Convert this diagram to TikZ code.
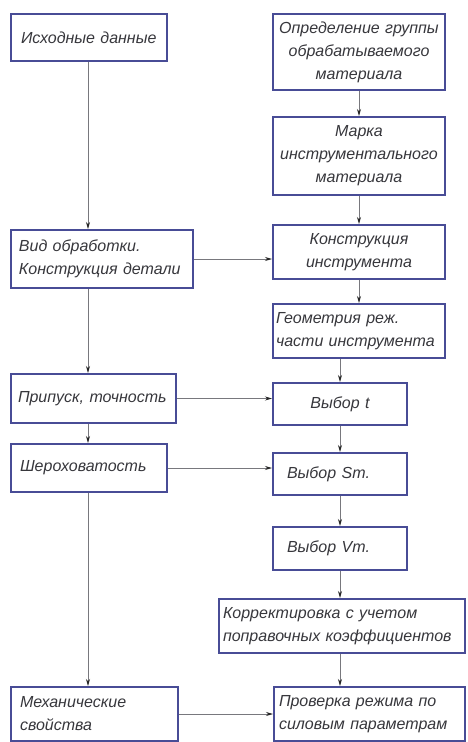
\documentclass[tikz,border=0pt]{standalone}
\usepackage{fontspec}
\setmainfont{Liberation Sans}
\usetikzlibrary{arrows.meta}
\definecolor{boxblue}{RGB}{72,76,150}
\definecolor{txt}{RGB}{55,55,60}
\definecolor{conn}{RGB}{120,120,125}
\begin{document}
\begin{tikzpicture}[x=1pt,y=-1pt,
  every node/.style={font=\fontsize{16}{23}\selectfont\itshape, text=txt},
  box/.style={draw=boxblue, line width=2pt, fill=white, anchor=north west, inner ysep=0pt},
  lbox/.style={box, align=left},
  cbox/.style={box, align=center},
  link/.style={draw=conn, line width=0.8pt, -{Stealth[length=7pt,width=4pt,color=black!85]}}
]
\useasboundingbox[fill=white] (0,0) rectangle (467,742);

% left column
\node[lbox, minimum width=156pt, minimum height=47pt, text width=136pt, inner xsep=10pt] (b1) at (10,13) {Исходные данные};
\node[lbox, minimum width=182pt, minimum height=58pt, text width=166pt, inner xsep=8pt] (b2) at (10,229) {Вид обработки.\\Конструкция детали};
\node[lbox, minimum width=165pt, minimum height=49pt, text width=151pt, inner xsep=7pt] (b3) at (10,373) {\mbox{Припуск, точность}};
\node[lbox, minimum width=156pt, minimum height=48pt, text width=138pt, inner xsep=9pt] (b4) at (10,443) {Шероховатость};
\node[lbox, minimum width=167pt, minimum height=54pt, text width=149pt, inner xsep=9pt] (b5) at (10,686) {Механические\\свойства};

% right column
\node[cbox, minimum width=172pt, minimum height=76pt, text width=166pt, inner xsep=3pt] (r1) at (272,13) {Определение группы\\обрабатываемого\\материала};
\node[cbox, minimum width=172pt, minimum height=78pt, text width=166pt, inner xsep=3pt] (r2) at (272,116) {Марка\\инструментального\\материала};
\node[cbox, minimum width=172pt, minimum height=54pt, text width=166pt, inner xsep=3pt] (r3) at (272,224) {Конструкция\\инструмента};
\node[lbox, minimum width=172pt, minimum height=54pt, text width=166pt, inner xsep=3pt] (r4) at (272,303) {Геометрия реж.\\части инструмента};
\node[cbox, minimum width=134pt, minimum height=42pt, text width=118pt, inner xsep=8pt] (r5) at (272,382) {Выбор \textit{t}};
\node[lbox, minimum width=134pt, minimum height=42pt, text width=106pt, inner xsep=14pt] (r6) at (272,452) {Выбор Sm.};
\node[lbox, minimum width=134pt, minimum height=43pt, text width=106pt, inner xsep=14pt] (r7) at (272,526) {Выбор Vm.};
\node[lbox, minimum width=246pt, minimum height=54pt, text width=238pt, inner xsep=4pt] (r8) at (218,598) {Корректировка с учетом\\поправочных коэффициентов};
\node[lbox, minimum width=191pt, minimum height=54pt, text width=181pt, inner xsep=5pt] (r9) at (273,686) {Проверка режима по\\силовым параметрам};

% vertical trunk on the left
\coordinate (lx) at (88,0);
\draw[link] (lx |- b1.south) -- (lx |- b2.north);
\draw[link] (lx |- b2.south) -- (lx |- b3.north);
\draw[link] (lx |- b3.south) -- (lx |- b4.north);
\draw[link] (lx |- b4.south) -- (lx |- b5.north);

% right column chain
\draw[link] (r1.south) -- (r2.north);
\draw[link] (r2.south) -- (r3.north);
\draw[link] (r3.south) -- (r4.north);
\draw[link] (r5.north |- r4.south) -- (r5.north);
\draw[link] (r5.south) -- (r6.north);
\draw[link] (r6.south) -- (r7.north);
\draw[link] (r7.south) -- (r7.south |- r8.north);
\draw[link] (r7.south |- r8.south) -- (r7.south |- r9.north);

% horizontal links
\draw[link] (b2.east) -- (b2.east -| r3.west);
\draw[link] (b3.east) -- (b3.east -| r5.west);
\draw[link] (b4.east) -- (b4.east -| r6.west);
\draw[link] (b5.east) -- (b5.east -| r9.west);
\end{tikzpicture}
\end{document}
